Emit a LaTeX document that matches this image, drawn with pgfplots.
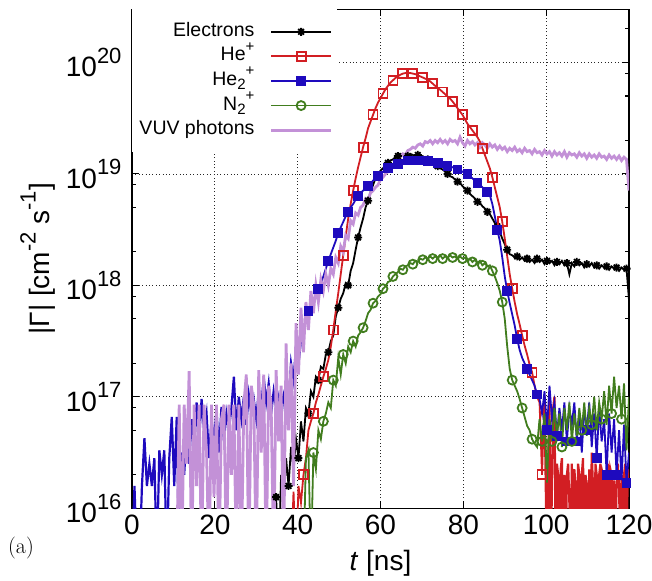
\documentclass[border=0pt]{standalone}
\usepackage{pgfplots}
\pgfplotsset{compat=1.18}
\usepackage{pgfplotstable}
\usepackage{fontspec}
\newfontfamily\arial{Liberation Sans}

\definecolor{gpred}{RGB}{210,30,35}
\definecolor{gpblue}{RGB}{30,10,190}
\definecolor{gpgreen}{RGB}{65,125,30}
\definecolor{gpviolet}{RGB}{195,145,215}

\newcommand\gfont{\arial\fontsize{19.5bp}{22bp}\selectfont}
\newcommand\tfont{\arial\fontsize{28bp}{32bp}\selectfont}
\newcommand\sups[1]{\raisebox{9.5bp}{\fontsize{15bp}{15bp}\selectfont #1}}
\newcommand\subs[1]{\raisebox{-4.5bp}{\fontsize{15bp}{15bp}\selectfont #1}}
\newcommand\tsups[1]{\raisebox{13.5bp}{\fontsize{22bp}{22bp}\selectfont #1}}

% gnuplot-like star (+ and x)
\pgfdeclareplotmark{gpstar}{%
  \pgfpathmoveto{\pgfqpoint{-\pgfplotmarksize}{0pt}}\pgfpathlineto{\pgfqpoint{\pgfplotmarksize}{0pt}}%
  \pgfpathmoveto{\pgfqpoint{0pt}{-\pgfplotmarksize}}\pgfpathlineto{\pgfqpoint{0pt}{\pgfplotmarksize}}%
  \pgfpathmoveto{\pgfqpoint{-.707\pgfplotmarksize}{-.707\pgfplotmarksize}}\pgfpathlineto{\pgfqpoint{.707\pgfplotmarksize}{.707\pgfplotmarksize}}%
  \pgfpathmoveto{\pgfqpoint{-.707\pgfplotmarksize}{.707\pgfplotmarksize}}\pgfpathlineto{\pgfqpoint{.707\pgfplotmarksize}{-.707\pgfplotmarksize}}%
  \pgfusepathqstroke}

% all tables: t [ns], L = log10(|Gamma|)
\pgfplotstableread[row sep=\\]{t L\\ 11.4 15.5\\ 12.0 16.0\\ 12.6 15.5\\}\blackA
\pgfplotstableread[row sep=\\]{t L\\ 25.8 15.5\\ 26.4 16.07\\ 27.0 15.5\\}\blackB
\pgfplotstableread[row sep=\\]{t L\\
33.6 15.5\\ 34.2 15.5\\ 34.8 16.1\\ 35.4 15.5\\ 36.0 16.3\\ 36.6 16.05\\ 37.2 16.45\\ 37.8 16.2\\
38.4 16.55\\ 39.0 16.35\\ 39.6 16.62\\ 40.2 16.45\\ 40.8 16.78\\ 41.4 16.6\\ 42.0 16.9\\ 42.6 16.85\\
43.2 17.05\\ 43.8 17.0\\ 44.4 17.18\\ 45.0 17.15\\ 45.6 17.27\\ 46.2 17.25\\ 46.8 17.38\\ 47.4 17.4\\
48.0 17.5\\ 48.6 17.55\\ 49.2 17.72\\ 49.8 17.8\\ 50.4 17.88\\ 51.0 17.93\\ 51.6 18.02\\ 52.2 18.0\\
52.8 18.13\\ 53.4 18.2\\ 54.0 18.32\\ 54.6 18.43\\ 55.2 18.52\\ 55.8 18.6\\ 56.4 18.7\\ 57.0 18.76\\
57.6 18.84\\ 58.2 18.9\\ 58.8 18.96\\ 59.4 18.99\\ 60.0 19.03\\ 60.6 19.05\\ 61.2 19.08\\ 61.8 19.1\\
62.4 19.12\\ 63.0 19.13\\ 63.6 19.15\\ 64.2 19.16\\ 64.8 19.18\\ 65.4 19.17\\ 66.0 19.18\\ 66.6 19.16\\
67.2 19.18\\ 67.8 19.17\\ 68.4 19.16\\ 69.0 19.17\\ 69.6 19.15\\ 70.2 19.16\\ 70.8 19.14\\ 71.4 19.13\\
72.0 19.12\\ 72.6 19.1\\ 73.2 19.08\\ 73.8 19.07\\ 74.4 19.05\\ 75.0 19.04\\ 75.6 19.02\\ 76.2 19.0\\
76.8 18.98\\ 77.4 18.97\\ 78.0 18.95\\ 78.6 18.93\\ 79.2 18.92\\ 79.8 18.89\\ 80.4 18.87\\ 81.0 18.85\\
81.6 18.82\\ 82.2 18.8\\ 82.8 18.78\\ 83.4 18.75\\ 84.0 18.74\\ 84.6 18.71\\ 85.2 18.69\\ 85.8 18.66\\
86.4 18.64\\ 87.0 18.6\\ 87.6 18.56\\ 88.2 18.53\\ 88.8 18.48\\ 89.4 18.42\\ 90.0 18.37\\ 90.6 18.32\\
91.2 18.28\\ 91.8 18.27\\ 92.4 18.25\\ 93.0 18.26\\ 93.6 18.23\\ 94.2 18.25\\ 94.8 18.22\\ 95.4 18.24\\
96.0 18.21\\ 96.6 18.23\\ 97.2 18.2\\ 97.8 18.24\\ 98.4 18.21\\ 99.0 18.23\\ 99.6 18.19\\ 100.2 18.22\\
100.8 18.2\\ 101.4 18.22\\ 102.0 18.18\\ 102.6 18.21\\ 103.2 18.19\\ 103.8 18.22\\ 104.4 18.18\\ 105.0 18.2\\
105.6 18.1\\ 106.2 18.2\\ 106.8 18.17\\ 107.4 18.21\\ 108.0 18.18\\ 108.6 18.2\\ 109.2 18.16\\ 109.8 18.19\\
110.4 18.17\\ 111.0 18.2\\ 111.6 18.16\\ 112.2 18.18\\ 112.8 18.15\\ 113.4 18.18\\ 114.0 18.16\\ 114.6 18.17\\
115.2 18.14\\ 115.8 18.17\\ 116.4 18.15\\ 117.0 18.16\\ 117.6 18.13\\ 118.2 18.16\\ 118.8 18.14\\ 119.4 18.15\\
120.0 17.87\\}\blackC

\pgfplotstableread[row sep=\\]{t L\\
38.4 15.5\\ 39.0 16.15\\ 39.6 15.5\\ 40.2 16.2\\ 40.8 16.05\\ 41.4 16.3\\ 42.0 16.45\\ 42.6 16.7\\
43.2 16.78\\ 43.8 16.85\\ 44.4 16.95\\ 45.0 17.02\\ 45.6 17.1\\ 46.2 17.18\\ 46.8 17.25\\ 47.4 17.33\\
48.0 17.45\\ 48.6 17.6\\ 49.2 17.77\\ 49.8 17.93\\ 50.4 18.1\\ 51.0 18.27\\ 51.6 18.44\\ 52.2 18.6\\
52.8 18.73\\ 53.4 18.85\\ 54.0 18.96\\ 54.6 19.06\\ 55.2 19.15\\ 55.8 19.24\\ 56.4 19.32\\ 57.0 19.41\\
57.6 19.47\\ 58.2 19.53\\ 58.8 19.59\\ 59.4 19.64\\ 60.0 19.68\\ 60.6 19.72\\ 61.2 19.76\\ 61.8 19.79\\
62.4 19.82\\ 63.0 19.84\\ 63.6 19.86\\ 64.2 19.875\\ 64.8 19.89\\ 65.4 19.9\\ 66.0 19.905\\ 66.6 19.905\\
67.2 19.905\\ 67.8 19.9\\ 68.4 19.895\\ 69.0 19.885\\ 69.6 19.875\\ 70.2 19.865\\ 70.8 19.855\\ 71.4 19.845\\
72.0 19.83\\ 72.6 19.81\\ 73.2 19.79\\ 73.8 19.77\\ 74.4 19.755\\ 75.0 19.735\\ 75.6 19.715\\ 76.2 19.695\\
76.8 19.675\\ 77.4 19.65\\ 78.0 19.62\\ 78.6 19.59\\ 79.2 19.56\\ 79.8 19.53\\ 80.4 19.49\\ 81.0 19.45\\
81.6 19.42\\ 82.2 19.39\\ 82.8 19.36\\ 83.4 19.33\\ 84.0 19.29\\ 84.6 19.23\\ 85.2 19.17\\ 85.8 19.11\\
86.4 19.05\\ 87.0 18.97\\ 87.6 18.88\\ 88.2 18.79\\ 88.8 18.7\\ 89.4 18.57\\ 90.0 18.42\\ 90.6 18.26\\
91.2 18.1\\ 91.8 17.97\\ 92.4 17.85\\ 93.0 17.74\\ 93.6 17.65\\ 94.2 17.55\\ 94.8 17.46\\ 95.4 17.38\\
96.0 17.29\\ 96.6 17.22\\ 97.2 17.1\\ 97.8 17.0\\ 98.4 16.95\\ 99.0 16.3\\ 99.6 17.0\\}\redHe

\pgfplotstableread[row sep=\\]{t L\\
99.6 17.0\\ 99.9 16.2\\ 100.2 15.5\\ 100.5 16.4\\
100.8 16.98\\ 101.1 15.5\\ 101.4 16.2\\ 101.7 16.9\\ 102.0 17.0\\ 102.3 15.6\\ 102.6 16.4\\ 102.9 16.3\\
103.2 15.5\\ 103.5 16.35\\ 103.8 16.45\\ 104.1 15.5\\ 104.4 16.3\\ 104.7 15.5\\ 105.0 16.3\\ 105.3 16.4\\
105.6 16.05\\ 105.9 15.5\\ 106.2 16.4\\ 106.5 15.5\\ 106.8 16.35\\ 107.1 16.2\\ 107.4 15.5\\ 107.7 16.4\\
108.0 16.3\\ 108.3 15.5\\ 108.6 16.3\\ 108.9 16.45\\ 109.2 15.5\\ 109.5 16.3\\ 109.8 16.2\\ 110.1 15.5\\
110.4 16.35\\ 110.7 15.5\\ 111.0 16.5\\ 111.3 16.2\\ 111.6 15.5\\ 111.9 16.4\\ 112.2 16.3\\ 112.5 15.5\\
112.8 16.3\\ 113.1 16.4\\ 113.4 15.5\\ 113.7 16.3\\ 114.0 16.25\\ 114.3 15.5\\ 114.6 16.3\\ 114.9 16.4\\
115.2 15.5\\ 115.5 16.35\\ 115.8 16.3\\ 116.1 15.5\\ 116.4 16.25\\ 116.7 15.5\\ 117.0 16.2\\ 117.3 16.4\\
117.6 16.2\\ 117.9 15.5\\ 118.2 16.3\\ 118.5 15.5\\ 118.8 16.3\\ 119.1 16.4\\ 119.4 15.5\\ 119.7 16.35\\
120.0 16.25\\}\redTail

\pgfplotstableread[row sep=\\]{t L\\
0.0 15.5\\ 0.6 16.2\\ 1.2 15.5\\ 1.8 15.5\\ 2.4 16.2\\ 3.0 16.63\\ 3.6 16.2\\ 4.2 16.4\\
4.8 16.2\\ 5.4 16.45\\ 6.0 15.5\\ 6.6 16.52\\ 7.2 16.3\\ 7.8 16.52\\ 8.4 15.5\\ 9.0 16.45\\
9.6 16.82\\ 10.2 16.2\\ 10.8 16.82\\ 11.4 15.5\\ 12.0 16.5\\ 12.6 16.3\\ 13.2 16.7\\ 13.8 16.4\\
14.4 16.8\\ 15.0 16.5\\ 15.6 16.95\\ 16.2 16.6\\ 16.8 16.98\\ 17.4 16.7\\ 18.0 16.85\\ 18.6 16.45\\
19.2 16.8\\ 19.8 16.6\\ 20.4 16.88\\ 21.0 16.5\\ 21.6 16.91\\ 22.2 16.6\\ 22.8 16.85\\ 23.4 16.7\\
24.0 16.9\\ 24.6 17.18\\ 25.2 16.7\\ 25.8 17.0\\ 26.4 16.8\\ 27.0 17.0\\ 27.6 16.75\\ 28.2 17.02\\
28.8 16.85\\ 29.4 16.98\\ 30.0 16.8\\ 30.6 17.05\\ 31.2 16.9\\ 31.8 17.18\\ 32.4 16.95\\ 33.0 17.12\\
33.6 16.85\\ 34.2 17.05\\ 34.8 16.9\\ 35.4 17.0\\ 36.0 16.8\\ 36.6 17.02\\ 37.2 17.1\\ 37.8 16.95\\
38.4 17.3\\ 39.0 17.15\\ 39.6 17.45\\ 40.2 17.3\\ 40.8 17.5\\}\blueNoise

\pgfplotstableread[row sep=\\]{t L\\
40.8 17.5\\ 41.4 17.6\\ 42.0 17.7\\ 42.6 17.77\\ 43.2 17.82\\ 43.8 17.86\\ 44.4 17.92\\ 45.0 17.97\\
45.6 18.02\\ 46.2 18.08\\ 46.8 18.15\\ 47.4 18.22\\ 48.0 18.28\\ 48.6 18.34\\ 49.2 18.4\\ 49.8 18.47\\
50.4 18.52\\ 51.0 18.57\\ 51.6 18.62\\ 52.2 18.66\\ 52.8 18.7\\ 53.4 18.73\\ 54.0 18.77\\ 54.6 18.8\\
55.2 18.83\\ 55.8 18.85\\ 56.4 18.87\\ 57.0 18.89\\ 57.6 18.91\\ 58.2 18.94\\ 58.8 18.96\\ 59.4 18.98\\
60.0 19.0\\ 60.6 19.02\\ 61.2 19.04\\ 61.8 19.05\\ 62.4 19.06\\ 63.0 19.07\\ 63.6 19.08\\ 64.2 19.09\\
64.8 19.1\\ 65.4 19.11\\ 66.0 19.11\\ 66.6 19.12\\ 67.2 19.12\\ 67.8 19.12\\ 68.4 19.12\\ 69.0 19.12\\
69.6 19.12\\ 70.2 19.12\\ 70.8 19.12\\ 71.4 19.115\\ 72.0 19.11\\ 72.6 19.11\\ 73.2 19.105\\ 73.8 19.1\\
74.4 19.1\\ 75.0 19.09\\ 75.6 19.08\\ 76.2 19.07\\ 76.8 19.065\\ 77.4 19.06\\ 78.0 19.05\\ 78.6 19.04\\
79.2 19.035\\ 79.8 19.02\\ 80.4 19.01\\ 81.0 19.0\\ 81.6 18.98\\ 82.2 18.96\\ 82.8 18.94\\ 83.4 18.92\\
84.0 18.9\\ 84.6 18.88\\ 85.2 18.86\\ 85.8 18.84\\ 86.4 18.81\\ 87.0 18.73\\ 87.6 18.62\\ 88.2 18.5\\
88.8 18.4\\ 89.4 18.25\\ 90.0 18.08\\ 90.6 17.95\\ 91.2 17.84\\ 91.8 17.74\\ 92.4 17.64\\ 93.0 17.52\\
93.6 17.42\\ 94.2 17.35\\ 94.8 17.3\\ 95.4 17.25\\ 96.0 17.2\\ 96.6 17.15\\ 97.2 17.1\\ 97.8 17.02\\
98.4 16.98\\ 99.0 16.85\\ 99.6 17.05\\ 100.2 16.7\\ 100.8 17.1\\ 101.4 16.8\\ 102.0 16.95\\ 102.6 16.65\\
103.2 16.9\\ 103.8 16.7\\ 104.4 16.95\\ 105.0 16.6\\ 105.6 16.9\\ 106.2 16.75\\ 106.8 16.95\\ 107.4 16.6\\
108.0 16.85\\ 108.6 16.5\\ 109.2 16.9\\ 109.8 16.7\\ 110.4 16.95\\ 111.0 16.55\\ 111.6 16.85\\ 112.2 16.45\\
112.8 16.9\\ 113.4 16.6\\ 114.0 16.8\\ 114.6 16.3\\ 115.2 16.85\\ 115.8 16.5\\ 116.4 16.8\\ 117.0 16.3\\
117.6 16.7\\ 118.2 16.25\\ 118.8 16.75\\ 119.4 16.23\\ 120.0 16.5\\}\blueMain

\pgfplotstableread[row sep=\\]{t L\\
41.4 15.5\\ 42.0 16.45\\ 42.6 16.52\\ 43.2 15.5\\ 43.8 16.5\\ 44.4 16.35\\ 45.0 16.7\\ 45.6 16.62\\
46.2 16.78\\ 46.8 16.85\\ 47.4 16.95\\ 48.0 16.9\\ 48.6 17.15\\ 49.2 17.1\\ 49.8 17.35\\ 50.4 17.2\\
51.0 17.38\\ 51.6 17.3\\ 52.2 17.45\\ 52.8 17.4\\ 53.4 17.5\\ 54.0 17.45\\ 54.6 17.55\\ 55.2 17.58\\
55.8 17.62\\ 56.4 17.68\\ 57.0 17.75\\ 57.6 17.78\\ 58.2 17.84\\ 58.8 17.86\\ 59.4 17.9\\ 60.0 17.92\\
60.6 17.97\\ 61.2 17.99\\ 61.8 18.03\\ 62.4 18.04\\ 63.0 18.08\\ 63.6 18.1\\ 64.2 18.12\\ 64.8 18.15\\
65.4 18.14\\ 66.0 18.17\\ 66.6 18.18\\ 67.2 18.2\\ 67.8 18.19\\ 68.4 18.22\\ 69.0 18.21\\ 69.6 18.24\\
70.2 18.23\\ 70.8 18.25\\ 71.4 18.24\\ 72.0 18.26\\ 72.6 18.24\\ 73.2 18.26\\ 73.8 18.25\\ 74.4 18.27\\
75.0 18.24\\ 75.6 18.26\\ 76.2 18.25\\ 76.8 18.27\\ 77.4 18.25\\ 78.0 18.26\\ 78.6 18.24\\ 79.2 18.26\\
79.8 18.24\\ 80.4 18.25\\ 81.0 18.22\\ 81.6 18.24\\ 82.2 18.21\\ 82.8 18.23\\ 83.4 18.2\\ 84.0 18.22\\
84.6 18.18\\ 85.2 18.2\\ 85.8 18.17\\ 86.4 18.18\\ 87.0 18.13\\ 87.6 18.08\\ 88.2 18.02\\ 88.8 17.95\\
89.4 17.85\\ 90.0 17.7\\ 90.6 17.45\\ 91.2 17.25\\ 91.8 17.15\\ 92.4 17.1\\ 93.0 17.05\\ 93.6 16.98\\
94.2 16.9\\ 94.8 16.82\\ 95.4 16.74\\ 96.0 16.7\\ 96.6 16.62\\ 97.2 16.58\\ 97.8 16.55\\ 98.4 16.8\\
99.0 16.6\\ 99.6 16.85\\ 100.2 16.23\\ 100.8 16.8\\ 101.4 16.6\\ 102.0 16.9\\ 102.6 16.65\\ 103.2 16.85\\
103.8 16.55\\ 104.4 16.9\\ 105.0 16.7\\ 105.6 16.95\\ 106.2 16.6\\ 106.8 16.85\\ 107.4 16.65\\ 108.0 16.9\\
108.6 16.7\\ 109.2 16.95\\ 109.8 16.65\\ 110.4 16.9\\ 111.0 16.75\\ 111.6 17.0\\ 112.2 16.7\\ 112.8 16.95\\
113.4 16.8\\ 114.0 17.05\\ 114.6 16.75\\ 115.2 17.1\\ 115.8 16.85\\ 116.4 17.18\\ 117.0 16.9\\ 117.6 17.1\\
118.2 16.8\\ 118.8 17.12\\ 119.4 16.52\\ 120.0 17.0\\}\greenN

\pgfplotstableread[row sep=\\]{t L\\
10.8 15.5\\ 11.4 16.93\\ 12.0 15.5\\ 12.6 16.93\\ 13.2 16.4\\ 13.8 17.23\\ 14.4 15.5\\ 15.0 16.93\\
15.6 16.2\\ 16.2 16.93\\ 16.8 15.5\\ 17.4 16.93\\ 18.0 16.5\\ 18.6 15.5\\ 19.2 16.93\\ 19.8 16.1\\
20.4 16.93\\ 21.0 15.5\\ 21.6 16.8\\ 22.2 16.93\\ 22.8 15.5\\ 23.4 16.93\\ 24.0 16.3\\ 24.6 16.93\\
25.2 15.5\\ 25.8 16.93\\ 26.4 15.5\\ 27.0 16.93\\ 27.6 17.2\\ 28.2 15.5\\ 28.8 17.1\\ 29.4 16.93\\
30.0 15.5\\ 30.6 17.24\\ 31.2 16.5\\ 31.8 17.2\\ 32.4 15.5\\ 33.0 17.1\\ 33.6 16.93\\ 34.2 15.5\\
34.8 17.24\\ 35.4 16.6\\ 36.0 17.1\\ 36.6 15.5\\ 37.2 17.48\\ 37.8 16.7\\ 38.4 17.3\\ 39.0 16.2\\
39.6 17.66\\ 40.2 17.2\\ 40.8 17.8\\ 41.4 17.4\\ 42.0 17.85\\ 42.6 17.6\\ 43.2 17.95\\ 43.8 17.75\\
44.4 18.0\\ 45.0 17.85\\ 45.6 18.05\\ 46.2 17.95\\ 46.8 18.1\\ 47.4 18.0\\ 48.0 18.15\\ 48.6 18.1\\
49.2 18.25\\ 49.8 18.2\\ 50.4 18.35\\ 51.0 18.3\\ 51.6 18.45\\ 52.2 18.42\\ 52.8 18.58\\ 53.4 18.55\\
54.0 18.65\\ 54.6 18.63\\ 55.2 18.7\\ 55.8 18.72\\ 56.4 18.78\\ 57.0 18.77\\ 57.6 18.83\\ 58.2 18.85\\
58.8 18.88\\ 59.4 18.9\\ 60.0 18.95\\ 60.6 18.97\\ 61.2 19.0\\ 61.8 19.02\\ 62.4 19.05\\ 63.0 19.08\\
63.6 19.1\\ 64.2 19.13\\ 64.8 19.15\\ 65.4 19.18\\ 66.0 19.17\\ 66.6 19.21\\ 67.2 19.22\\ 67.8 19.24\\
68.4 19.23\\ 69.0 19.26\\ 69.6 19.27\\ 70.2 19.25\\ 70.8 19.29\\ 71.4 19.28\\ 72.0 19.3\\ 72.6 19.27\\
73.2 19.3\\ 73.8 19.28\\ 74.4 19.31\\ 75.0 19.28\\ 75.6 19.3\\ 76.2 19.27\\ 76.8 19.31\\ 77.4 19.29\\
78.0 19.3\\ 78.6 19.27\\ 79.2 19.33\\ 79.8 19.28\\ 80.4 19.25\\ 81.0 19.3\\ 81.6 19.27\\ 82.2 19.29\\
82.8 19.26\\ 83.4 19.28\\ 84.0 19.24\\ 84.6 19.28\\ 85.2 19.26\\ 85.8 19.23\\ 86.4 19.27\\ 87.0 19.24\\
87.6 19.26\\ 88.2 19.22\\ 88.8 19.25\\ 89.4 19.22\\ 90.0 19.24\\ 90.6 19.2\\ 91.2 19.23\\ 91.8 19.21\\
92.4 19.24\\ 93.0 19.2\\ 93.6 19.22\\ 94.2 19.19\\ 94.8 19.23\\ 95.4 19.2\\ 96.0 19.21\\ 96.6 19.18\\
97.2 19.22\\ 97.8 19.19\\ 98.4 19.2\\ 99.0 19.17\\ 99.6 19.21\\ 100.2 19.18\\ 100.8 19.2\\ 101.4 19.16\\
102.0 19.2\\ 102.6 19.17\\ 103.2 19.19\\ 103.8 19.16\\ 104.4 19.2\\ 105.0 19.15\\ 105.6 19.19\\ 106.2 19.17\\
106.8 19.18\\ 107.4 19.15\\ 108.0 19.19\\ 108.6 19.16\\ 109.2 19.18\\ 109.8 19.14\\ 110.4 19.18\\ 111.0 19.15\\
111.6 19.17\\ 112.2 19.14\\ 112.8 19.18\\ 113.4 19.15\\ 114.0 19.16\\ 114.6 19.13\\ 115.2 19.17\\ 115.8 19.14\\
116.4 19.16\\ 117.0 19.13\\ 117.6 19.16\\ 118.2 19.12\\ 118.8 19.15\\ 119.4 19.13\\ 120.0 18.85\\}\vuv

\begin{document}
\begin{tikzpicture}
\begin{axis}[
    scale only axis, width=497bp, height=499bp,
    xmin=0, xmax=120, ymode=log, ymin=1e16, ymax=3e20,
    xtick={0,20,...,120},
    ytick={1e16,1e17,1e18,1e19,1e20},
    yticklabels={10\tsups{16},10\tsups{17},10\tsups{18},10\tsups{19},10\tsups{20}},
    minor ytick={2e16,5e16,8e16,2e17,5e17,8e17,2e18,5e18,8e18,2e19,5e19,8e19,2e20},
    tick align=inside, major tick length=7bp, minor tick length=4bp,
    every tick/.style={black, line width=1.1bp},
    axis line style={line width=1.4bp},
    grid=major,
    major grid style={black!85, line width=0.7bp, dash pattern=on 0.8bp off 2.6bp},
    /pgf/number format/assume math mode=true,
    tick label style={font=\tfont},
    yticklabel style={xshift=-7bp},
    xticklabel style={yshift=-3bp},
    xlabel={\textit{t} [ns]},
    ylabel={|Γ| [cm\tsups{-2} s\tsups{-1}]},
    every axis x label/.style={at={(axis description cs:0.5,-0.11)}, anchor=center, font=\tfont},
    every axis y label/.style={at={(axis description cs:-0.19,0.5)}, rotate=90, anchor=center, font=\tfont},
    legend cell align=right, legend plot pos=right,
    legend image code/.code={\draw[mark repeat=2,mark phase=2,#1] plot coordinates {(0bp,0bp) (30bp,0bp) (60bp,0bp)};},
    legend style={at={(axis description cs:0,1)}, anchor=north west, draw=none, fill=white,
        font=\gfont, inner xsep=4bp, inner ysep=10bp, column sep=12bp,
        nodes={text height=13bp, text depth=4bp, inner xsep=3.3bp, inner ysep=3.8bp}},
]
\addlegendimage{black, line width=1.8bp, mark=gpstar, mark size=4bp}
\addlegendentry{Electrons}
\addlegendimage{gpred, line width=1.8bp, mark=square, mark size=4.5bp}
\addlegendentry{He\sups{+}}
\addlegendimage{gpblue, line width=1.8bp, mark=square*, mark size=4bp}
\addlegendentry{He\subs{2}\sups{+}}
\addlegendimage{gpgreen, line width=1.8bp, mark=o, mark size=4.5bp}
\addlegendentry{N\subs{2}\sups{+}}
\addlegendimage{gpviolet, line width=2.8bp}
\addlegendentry{VUV photons}

\addplot[black, line width=1.8bp, mark=gpstar, mark size=4bp, mark repeat=4, mark phase=2, forget plot]
    table[x=t, y expr=10^\thisrow{L}] {\blackA};
\addplot[black, line width=1.8bp, mark=none, forget plot]
    table[x=t, y expr=10^\thisrow{L}] {\blackB};
\addplot[black, line width=1.8bp, mark=gpstar, mark size=4bp, mark repeat=4, mark phase=1, forget plot]
    table[x=t, y expr=10^\thisrow{L}] {\blackC};
\addplot[gpred, line width=1.8bp, mark=square, mark size=4.5bp, mark repeat=4, mark phase=4, forget plot]
    table[x=t, y expr=10^\thisrow{L}] {\redHe};
\addplot[gpred, line width=2.2bp, mark=none, forget plot]
    table[x=t, y expr=10^\thisrow{L}] {\redTail};
\addplot[gpblue, line width=2.2bp, mark=none, forget plot]
    table[x=t, y expr=10^\thisrow{L}] {\blueNoise};
\addplot[gpblue, line width=1.8bp, mark=square*, mark size=4bp, mark repeat=4, mark phase=4, forget plot]
    table[x=t, y expr=10^\thisrow{L}] {\blueMain};
\addplot[gpgreen, line width=1.8bp, mark=o, mark size=4.5bp, mark repeat=4, mark phase=3, forget plot]
    table[x=t, y expr=10^\thisrow{L}] {\greenN};
\addplot[gpviolet, line width=2.8bp, mark=none, forget plot]
    table[x=t, y expr=10^\thisrow{L}] {\vuv};
\end{axis}
\node[font=\rmfamily\fontsize{22bp}{24bp}\selectfont] at (-111bp,-40bp) {(a)};
\pgfresetboundingbox
\path[use as bounding box] (-132bp,-72.6bp) rectangle (520bp,508.3bp);
\end{tikzpicture}
\end{document}
